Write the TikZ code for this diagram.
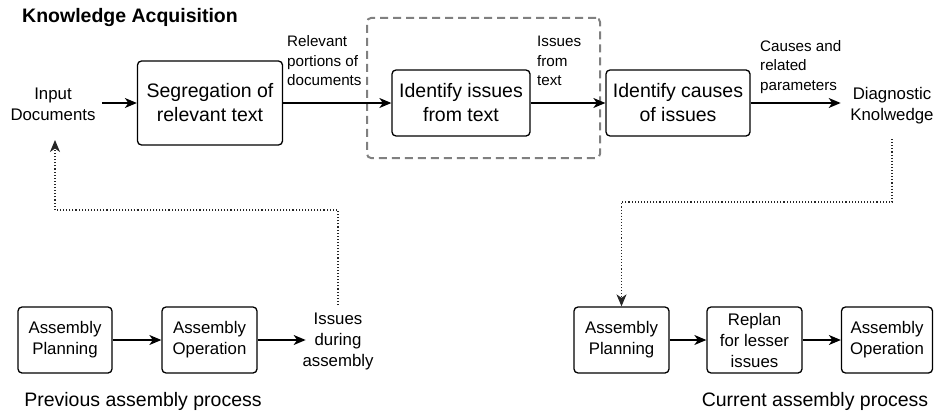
\documentclass[tikz,border=0pt]{standalone}
\usepackage{fontspec}
\setmainfont{Liberation Sans}
\usetikzlibrary{arrows.meta,calc}
\begin{document}
\begin{tikzpicture}[x=1pt,y=-1pt,
  box/.style={draw,line width=1.3pt,rounded corners=4pt,inner sep=0pt,align=center},
  bigtxt/.style={font=\fontsize{19.5}{24}\selectfont},
  medtxt/.style={font=\fontsize{16.8}{21}\selectfont},
  lbl/.style={font=\fontsize{15.2}{19.5}\selectfont,align=left,inner sep=0pt,anchor=west},
  plain/.style={align=center,inner sep=0pt},
  tip/.style={-{Stealth[length=12pt,width=10pt,inset=3.5pt]}},
  flow/.style={tip,line width=1.2pt},
  dotflow/.style={tip,line width=1.1pt,dotted,black!85}
]
\useasboundingbox (0,0) rectangle (934,412);

\node[anchor=west,inner sep=0pt,font=\fontsize{19.5}{22}\selectfont\bfseries] (title) at (22,18) {Knowledge Acquisition};

% dashed group
\node[draw=gray,line width=2pt,dash pattern=on 8pt off 5pt,rounded corners=4pt,minimum width=233pt,minimum height=140pt,inner sep=0pt] (grp) at (483.5,88) {};

\node[plain,medtxt] (input) at (53,104) {Input\\Documents};
\node[box,bigtxt,minimum width=145pt,minimum height=84pt] (seg) at (210,103) {Segregation of\\relevant text};
\node[box,bigtxt,minimum width=138pt,minimum height=66pt] (iss) at (461,103) {Identify issues\\from text};
\node[box,bigtxt,minimum width=144pt,minimum height=66pt] (cau) at (678,103) {Identify causes\\of issues};
\node[plain,medtxt] (diag) at (892,106) {Diagnostic\\Knolwedge};

\node[lbl] (l1) at (287,61) {Relevant\\portions of\\documents};
\node[lbl] (l2) at (537,61) {Issues\\from\\text};
\node[lbl] (l3) at (760,67) {Causes and\\related\\parameters};

\draw[flow] ([xshift=-35pt]seg.west) -- (seg.west);
\draw[flow] (seg.east) -- (iss.west);
\draw[flow] (iss.east) -- (cau.west);
\draw[flow] (cau.east) -- ++(90,0) coordinate (diagin);

% bottom left
\node[box,medtxt,minimum width=94pt,minimum height=66pt] (ap1) at (65,340) {Assembly\\Planning};
\node[box,medtxt,minimum width=95pt,minimum height=66pt] (ao1) at (209.5,340) {Assembly\\Operation};
\node[plain,medtxt] (ida) at (338,341) {Issues\\during\\assembly};
\node[plain,font=\fontsize{19.5}{23}\selectfont] (prev) at (143,401) {Previous assembly process};
\draw[flow] (ap1.east) -- (ao1.west);
\draw[flow] (ao1.east) -- ++(48,0) coordinate (idain);

% bottom right
\node[box,medtxt,minimum width=95pt,minimum height=66pt] (ap2) at (621.5,340) {Assembly\\Planning};
\node[box,medtxt,minimum width=95pt,minimum height=66pt] (rep) at (754.5,340) {Replan\\for lesser\\issues};
\node[box,medtxt,minimum width=91pt,minimum height=66pt] (ao2) at (887,340) {Assembly\\Operation};
\node[plain,font=\fontsize{19.5}{23}\selectfont] (cur) at (815,401) {Current assembly process};
\draw[flow] (ap2.east) -- (rep.west);
\draw[flow] (rep.east) -- (ao2.west);

% dotted feedback
\coordinate (dstart) at (892,139);
\draw[dotflow] (dstart) -- (892,202) -| (ap2.north);
\coordinate (istart) at (338,305);
\draw[dotflow] (istart) -- (338,210) -| (55,140);
\end{tikzpicture}
\end{document}
